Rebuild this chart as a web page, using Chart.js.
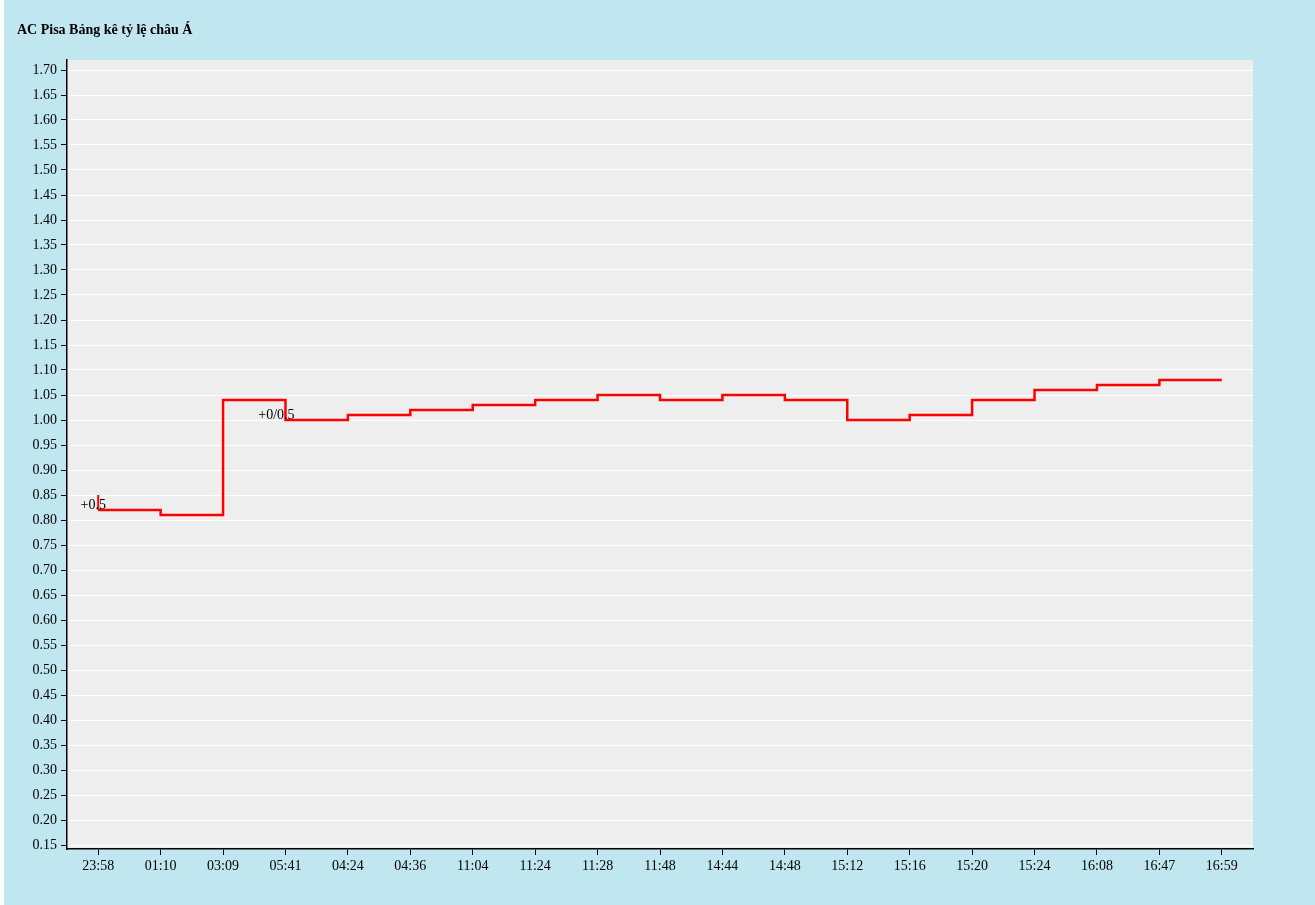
<!DOCTYPE html>
<html>
<head>
<meta charset="utf-8">
<script src="https://cdn.jsdelivr.net/npm/chart.js@4"></script>
<style>
  html, body { margin: 0; padding: 0; background: #fff; }
  #wrap { position: absolute; left: 4px; top: 0; width: 1311px; height: 905px; background: #c0e6f0; }
  canvas { display: block; }
</style>
</head>
<body>
<div id="wrap"><canvas id="chart" width="1311" height="905"></canvas></div>
<script>
// chart title
var chartTitle = 'AC Pisa Bảng kê tỷ lệ châu Á';

// time labels along the bottom
var timeLabels = ['23:58', '01:10', '03:09', '05:41', '04:24', '04:36', '11:04', '11:24', '11:28',
    '11:48', '14:44', '14:48', '15:12', '15:16', '15:20', '15:24', '16:08', '16:47', '16:59'];

// odds values (stepped line)
var oddsValues = [0.82, 0.81, 1.04, 1.00, 1.01, 1.02, 1.03, 1.04, 1.05,
    1.04, 1.05, 1.04, 1.00, 1.01, 1.04, 1.06, 1.07, 1.08, 1.08];

// opening value before first change
var openingValue = 0.85;

// handicap notes
var handicapIndex = [0, 3];
var handicapText = ['+0.5', '+0/0.5'];
var handicapShift = [-5, -9];

// y tick labels
var yTicks = [];
for (var t = 15; t <= 170; t += 5) yTicks.push(t / 100);

var serif = '"Liberation Serif", "DejaVu Serif", serif';

var decorPlugin = {
    id: 'decor',
    beforeDraw: function (chart) {
        var ctx = chart.ctx, a = chart.chartArea;
        ctx.save();
        ctx.fillStyle = '#eeeeee';
        ctx.fillRect(a.left, a.top, a.right - a.left, a.bottom - a.top);
        ctx.fillStyle = '#000';
        ctx.font = 'bold 14px ' + serif;
        ctx.textBaseline = 'middle';
        ctx.fillText(chartTitle, 13, 30);
        ctx.restore();
    },
    afterDatasetsDraw: function (chart) {
        var ctx = chart.ctx, xs = chart.scales.x, ys = chart.scales.y;
        ctx.save();
        ctx.fillStyle = '#000';
        ctx.font = '14px ' + serif;
        ctx.textBaseline = 'middle';
        ctx.textAlign = 'center';
        handicapIndex.forEach(function (idx, i) {
            var x = xs.getPixelForValue(idx);
            var y = ys.getPixelForValue(oddsValues[idx]);
            ctx.fillText(handicapText[i], x + handicapShift[i], y - 5);
        });
        ctx.restore();
    }
};

new Chart(document.getElementById('chart'), {
    type: 'line',
    data: {
        labels: timeLabels,
        datasets: [{
            data: oddsValues,
            borderColor: '#ff0000',
            borderWidth: 2.5,
            stepped: 'before',
            pointRadius: 0
        }, {
            data: [{ x: timeLabels[0], y: openingValue }, { x: timeLabels[0], y: oddsValues[0] }],
            borderColor: '#ff0000',
            borderWidth: 2,
            pointRadius: 0
        }]
    },
    options: {
        responsive: false,
        animation: false,
        layout: { padding: { left: 0, right: 62, top: 60, bottom: 0 } },
        plugins: { legend: { display: false }, tooltip: { enabled: false } },
        scales: {
            x: {
                offset: true,
                afterFit: function (s) { s.height = 56; },
                grid: { display: true, drawOnChartArea: false, color: '#000', tickColor: '#000', tickLength: 6 },
                border: { color: '#000', width: 1.5 },
                ticks: { color: '#000', font: { family: serif, size: 14 }, padding: 3, maxRotation: 0, autoSkip: false }
            },
            y: {
                min: 0.142,
                max: 1.72,
                afterFit: function (s) { s.width = 63; },
                afterBuildTicks: function (s) { s.ticks = yTicks.map(function (v) { return { value: v }; }); },
                grid: { color: '#ffffff', tickColor: '#000', tickLength: 6, lineWidth: 1 },
                border: { color: '#000', width: 1.5 },
                ticks: {
                    color: '#000', font: { family: serif, size: 14 }, padding: 4,
                    callback: function (v) { return Number(v).toFixed(2); }
                }
            }
        }
    },
    plugins: [decorPlugin]
});
</script>
</body>
</html>
